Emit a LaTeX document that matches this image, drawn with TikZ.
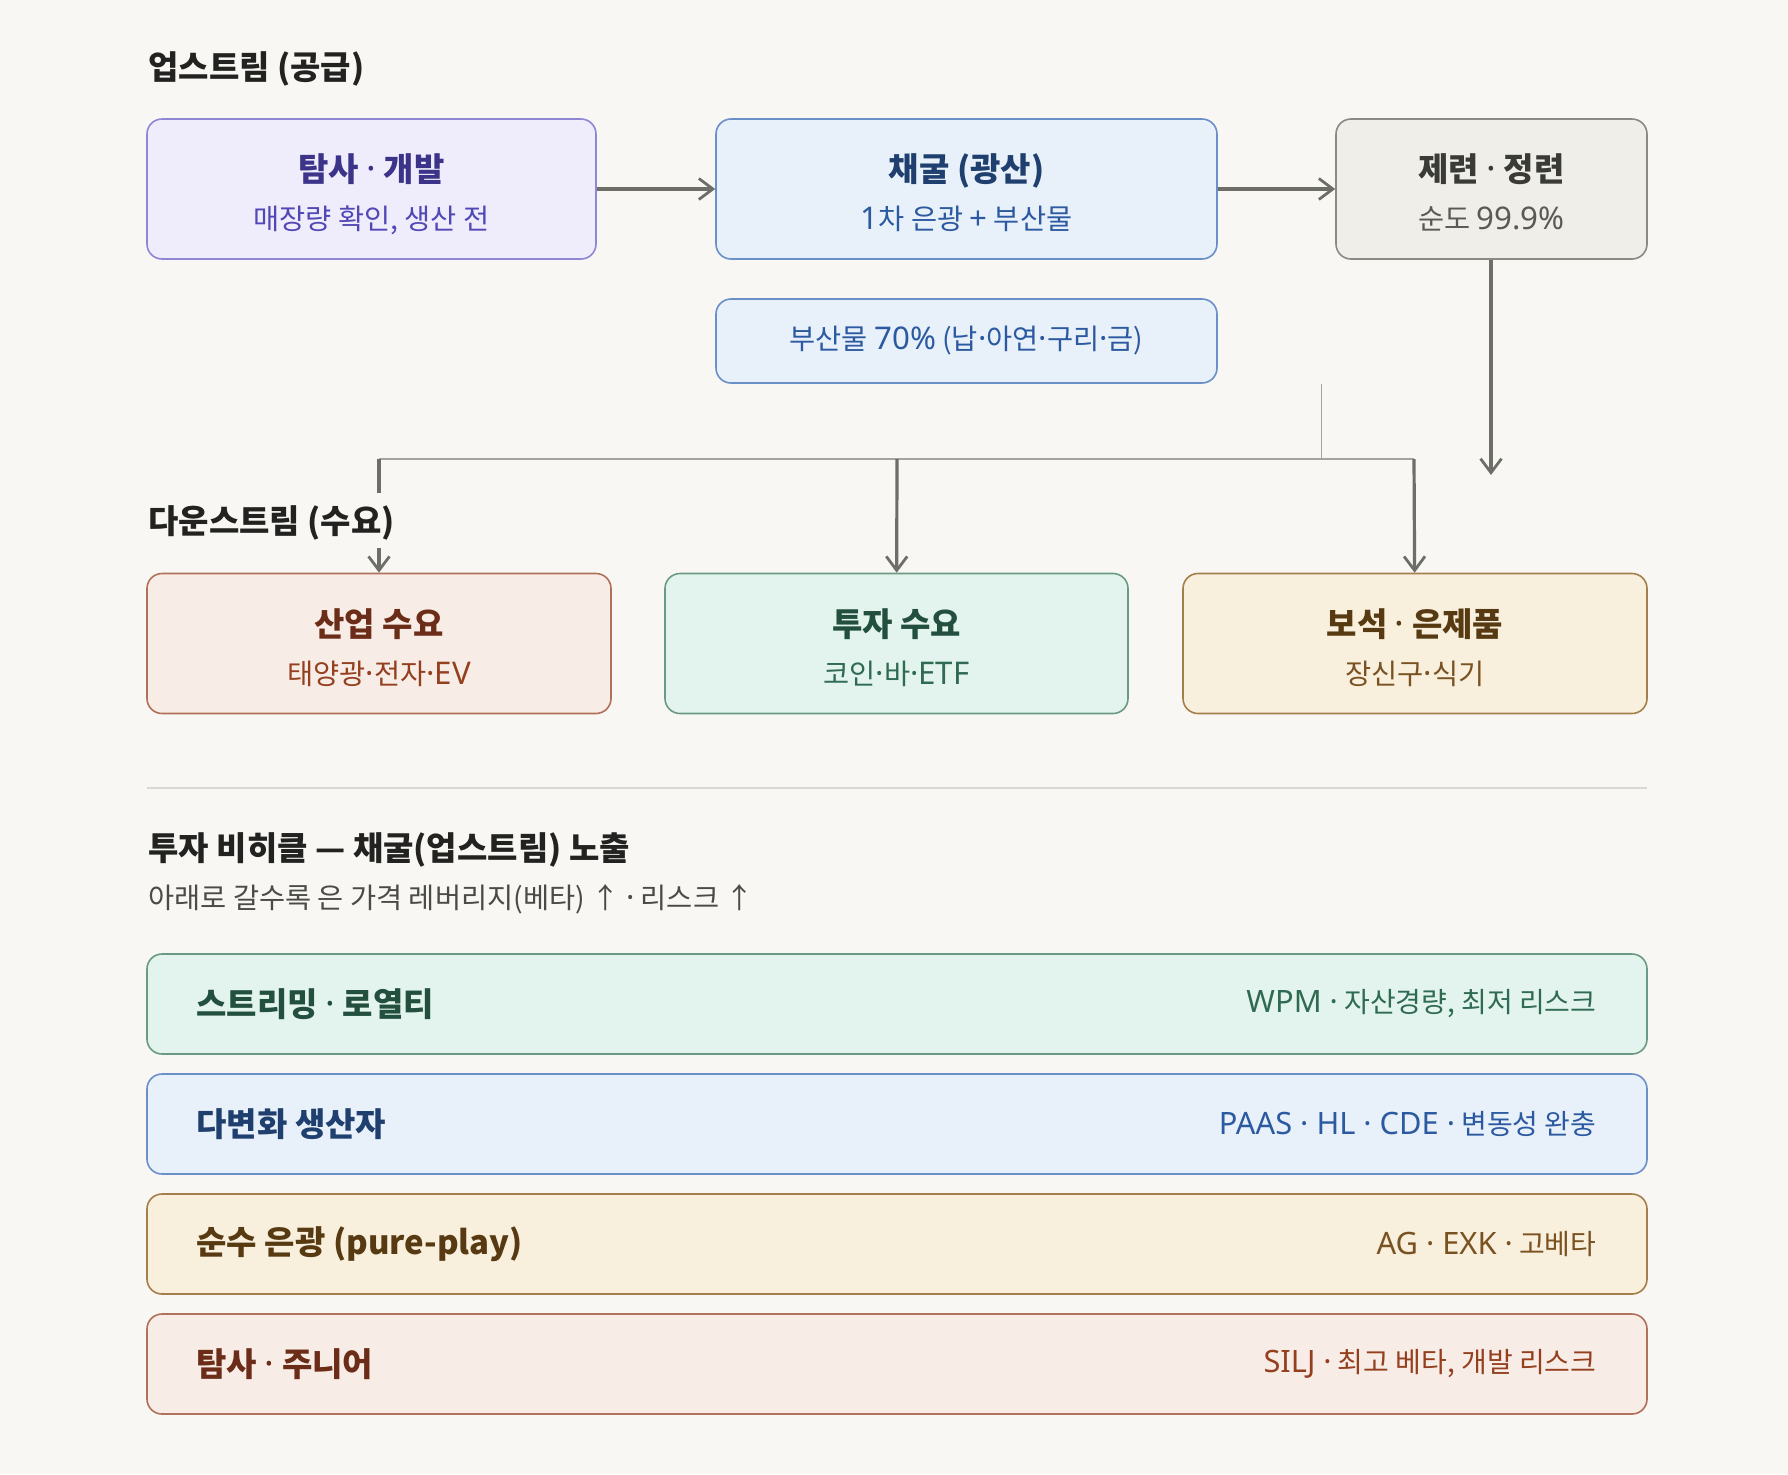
\documentclass[tikz,border=0pt]{standalone}
\usepackage{fontspec}
\setmainfont{Noto Sans CJK KR}
\newfontfamily\latf{Noto Sans}[Scale=1.1]
\usetikzlibrary{arrows.meta,positioning}
\definecolor{bgc}{HTML}{F8F7F4}
\definecolor{headc}{HTML}{222220}
\definecolor{subc}{HTML}{4A4A46}
\definecolor{arrc}{HTML}{6E6E69}
\definecolor{brc}{HTML}{A3A39F}
\definecolor{sepc}{HTML}{D9D8D3}
\definecolor{puf}{HTML}{EFEDFC}\definecolor{pud}{HTML}{8F87D6}\definecolor{put}{HTML}{3C3489}\definecolor{pus}{HTML}{5148B5}
\definecolor{blf}{HTML}{E8F0FA}\definecolor{bld}{HTML}{6B90C8}\definecolor{blt}{HTML}{1F3F6E}\definecolor{bls}{HTML}{2C5AA0}
\definecolor{grf}{HTML}{EFEEE9}\definecolor{grd}{HTML}{8A8984}\definecolor{grt}{HTML}{3A3A37}\definecolor{grs}{HTML}{5A5954}
\definecolor{ref}{HTML}{F8ECE7}\definecolor{red}{HTML}{B0705A}\definecolor{ret}{HTML}{6B2D18}\definecolor{res}{HTML}{94401F}
\definecolor{gnf}{HTML}{E3F4EE}\definecolor{gnd}{HTML}{6A9A84}\definecolor{gnt}{HTML}{23503E}\definecolor{gns}{HTML}{2F6A52}
\definecolor{amf}{HTML}{F8EFDD}\definecolor{amd}{HTML}{A57F4A}\definecolor{amt}{HTML}{573A12}\definecolor{ams}{HTML}{7A5222}
\newcommand\lt[1]{{\latf #1}}
\newcommand\dt{\lt{·}}
\newcommand\twoln[4]{{\fontsize{16.5}{24}\selectfont\bfseries\color{#1}\rule{0pt}{19.5pt}#2}\\{\color{#3}\rule[-3pt]{0pt}{3pt}#4}}
\begin{document}
\begin{tikzpicture}[x=0.5pt,y=-0.5pt,box/.style={draw,rounded corners=7.5pt,line width=0.8pt,inner sep=0pt,align=center,minimum height=70pt,font=\fontsize{14.2}{24}\selectfont},arr/.style={-{Straight Barb[length=7pt,width=10.5pt,line width=1.4pt]},line width=1.6pt,draw=arrc},hd/.style={anchor=base west,inner sep=0pt,font=\fontsize{16.5}{20}\selectfont\bfseries,text=headc},row/.style={draw,rounded corners=7.5pt,line width=0.8pt,minimum width=750pt,minimum height=50pt,inner sep=0pt},rowl/.style={anchor=west,inner sep=0pt,font=\fontsize{16.5}{20}\selectfont\bfseries},rowr/.style={anchor=east,inner sep=0pt,font=\fontsize{14}{16}\selectfont}]
\useasboundingbox[fill=bgc] (0,0) rectangle (1788,1474);
\node[hd] (uphd) at (148,79) {업스트림 (공급)};
\node[box,fill=puf,draw=pud,minimum width=224.5pt] (tamsa) at (371.5,189) {\twoln{put}{탐사 \dt{} 개발}{pus}{매장량 확인, 생산 전}};
\node[box,fill=blf,draw=bld,minimum width=250.5pt] (chaegul) at (966.5,189) {\twoln{blt}{채굴 (광산)}{bls}{\lt{1}차 은광 \lt{+} 부산물}};
\node[box,fill=grf,draw=grd,minimum width=155.5pt] (jeryeon) at (1491.5,189) {\twoln{grt}{제련 \dt{} 정련}{grs}{순도 \lt{99.9\%}}};
\node[box,fill=blf,draw=bld,minimum width=250.5pt,minimum height=42pt,text=bls] (busan) at (966.5,341) {부산물 \lt{70\%} (납\dt 아연\dt 구리\dt 금)};
\draw[arr](tamsa)--(chaegul);\draw[arr](chaegul)--(jeryeon);
\coordinate (jerend) at (1491,475);
\draw[arr](jeryeon.south-|jerend)--(jerend);
\coordinate (thtop) at (1321,384);\coordinate (thbot) at (1321,459);
\draw[brc,line width=0.5pt](thtop)--(thbot);
\coordinate (brl) at (379,459);\coordinate (brm) at (897,459);\coordinate (brr) at (1414,459);
\draw[brc,line width=1.2pt](brl)--(brr);
\node[hd] (dnhd) at (148,533.5) {다운스트림 (수요)};
\node[box,fill=ref,draw=red,minimum width=232pt] (sanup) at (379,643.5) {\twoln{ret}{산업 수요}{res}{태양광\dt 전자\dt\lt{EV}}};
\node[box,fill=gnf,draw=gnd,minimum width=231.5pt] (tuja) at (896.5,643.5) {\twoln{gnt}{투자 수요}{gns}{코인\dt 바\dt\lt{ETF}}};
\node[box,fill=amf,draw=amd,minimum width=232pt] (boseok) at (1415,643.5) {\twoln{amt}{보석 \dt{} 은제품}{ams}{장신구\dt 식기}};
\coordinate (gap1) at (379,493);\coordinate (gap2) at (379,548);
\draw[arrc,line width=1.6pt](brl)--(gap1);\draw[arr](gap2)--(sanup);
\draw[arr](brm)--(tuja);\draw[arr](brr)--(boseok);
\coordinate (sepl) at (147,788);\coordinate (sepr) at (1647,788);
\draw[sepc,line width=1pt](sepl)--(sepr);
\node[hd] (vehd) at (148,860) {투자 비히클 — 채굴(업스트림) 노출};
\node[anchor=base west,inner sep=0pt,font=\fontsize{14.2}{16}\selectfont,text=subc] (vesub) at (148,908) {아래로 갈수록 은 가격 레버리지(베타) ↑ \dt{} 리스크 ↑};
\node[row,fill=gnf,draw=gnd] (r1) at (897,1004) {};
\node[row,fill=blf,draw=bld] (r2) at (897,1124) {};
\node[row,fill=amf,draw=amd] (r3) at (897,1244) {};
\node[row,fill=ref,draw=red] (r4) at (897,1364) {};
\node[rowl,text=gnt] (r1l) at ([xshift=25pt]r1.west) {스트리밍 \dt{} 로열티};
\node[rowr,text=gns] (r1r) at ([xshift=-25.5pt]r1.east) {\lt{WPM ·} 자산경량, 최저 리스크};
\node[rowl,text=blt] (r2l) at ([xshift=25pt]r2.west) {다변화 생산자};
\node[rowr,text=bls] (r2r) at ([xshift=-25.5pt]r2.east) {\lt{PAAS · HL · CDE ·} 변동성 완충};
\node[rowl,text=amt] (r3l) at ([xshift=25pt]r3.west) {순수 은광 (pure-play)};
\node[rowr,text=ams] (r3r) at ([xshift=-25.5pt]r3.east) {\lt{AG · EXK ·} 고베타};
\node[rowl,text=ret] (r4l) at ([xshift=25pt]r4.west) {탐사 \dt{} 주니어};
\node[rowr,text=res] (r4r) at ([xshift=-25.5pt]r4.east) {\lt{SILJ ·} 최고 베타, 개발 리스크};
\end{tikzpicture}
\end{document}
